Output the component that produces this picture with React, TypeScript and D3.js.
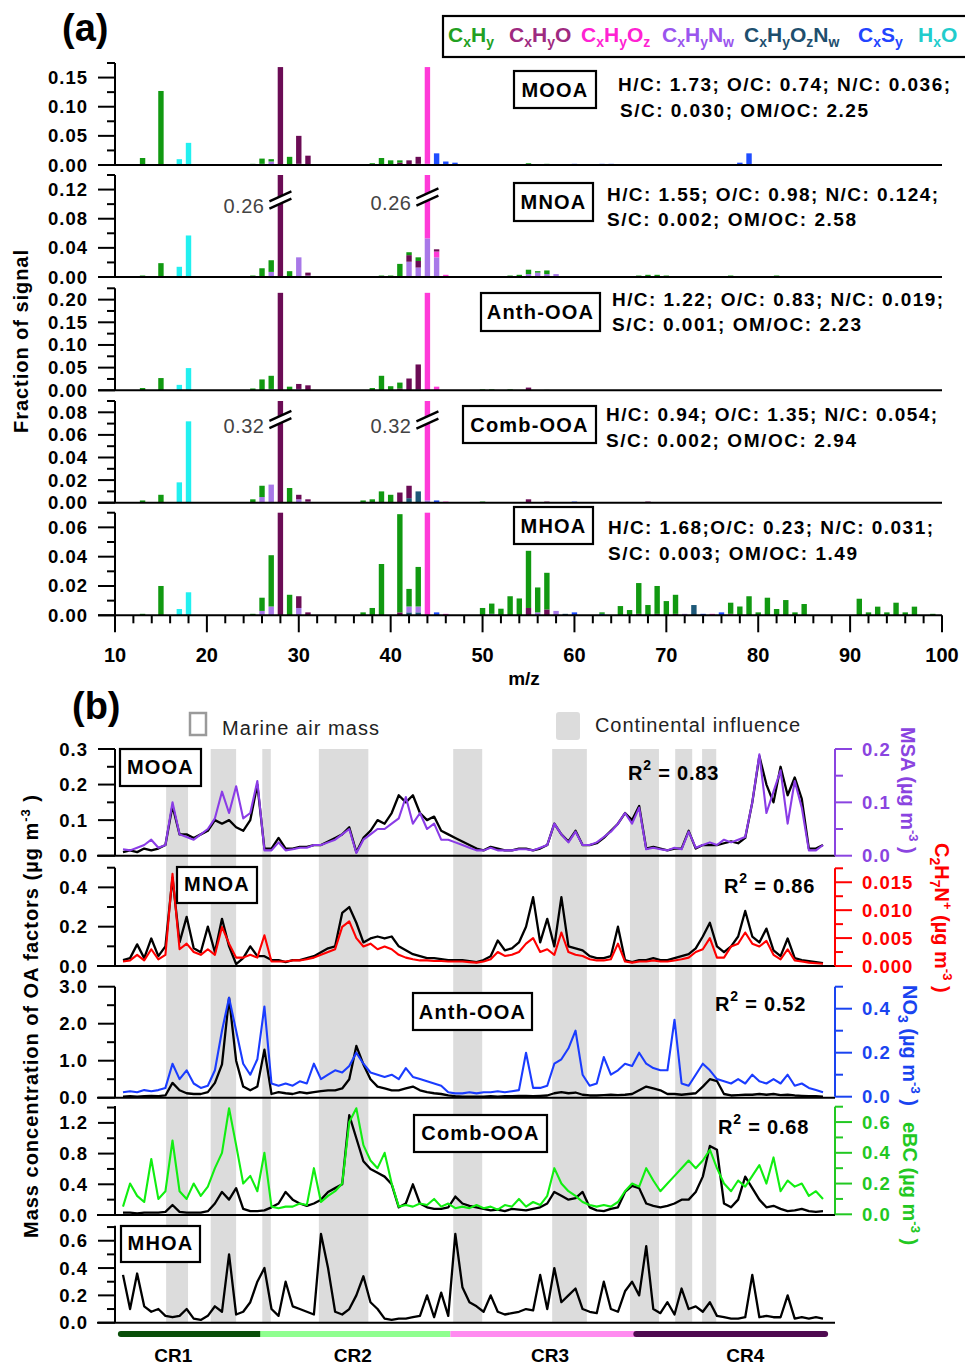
import React from "react";
import * as d3 from "d3";

const FONT = "'Liberation Sans', Arial, Helvetica, sans-serif";

// ---------- (a) mass spectra: [m/z, CxHy, CxHyO, CxHyOz, CxHyNw, CxHyOzNw, CxSy, HxO]
const msMOOA = [
  [13, 0.012, 0, 0, 0, 0, 0, 0], [15, 0.127, 0, 0, 0, 0, 0, 0], [17, 0, 0, 0, 0, 0, 0, 0.010],
  [18, 0, 0, 0, 0, 0, 0, 0.038], [25, 0.002, 0, 0, 0, 0, 0, 0], [26, 0.009, 0, 0, 0.002, 0, 0, 0],
  [27, 0.004, 0, 0, 0.006, 0, 0, 0], [28, 0, 0.168, 0, 0, 0, 0, 0], [29, 0.014, 0, 0, 0, 0, 0, 0],
  [30, 0, 0.048, 0, 0.002, 0, 0, 0], [31, 0, 0.016, 0, 0, 0, 0, 0], [37, 0.001, 0, 0, 0, 0, 0, 0],
  [38, 0.003, 0, 0, 0, 0, 0, 0], [39, 0.012, 0, 0, 0, 0, 0, 0], [40, 0.008, 0, 0, 0, 0, 0, 0],
  [41, 0.004, 0.004, 0, 0, 0, 0, 0], [42, 0, 0.007, 0, 0.001, 0, 0, 0], [43, 0, 0.012, 0, 0, 0.002, 0, 0],
  [44, 0, 0, 0.166, 0.002, 0, 0, 0], [45, 0, 0, 0, 0, 0, 0.020, 0], [46, 0, 0, 0, 0, 0, 0.006, 0],
  [47, 0, 0, 0, 0, 0, 0.004, 0], [50, 0.001, 0, 0, 0, 0, 0, 0], [53, 0.001, 0, 0, 0, 0, 0, 0],
  [55, 0.002, 0, 0.001, 0, 0, 0, 0], [57, 0.001, 0, 0.001, 0, 0, 0, 0], [60, 0, 0, 0, 0, 0, 0.002, 0],
  [63, 0, 0, 0, 0, 0, 0.002, 0], [64, 0, 0, 0, 0, 0, 0.002, 0], [73, 0, 0, 0, 0, 0.001, 0, 0],
  [78, 0, 0, 0, 0, 0, 0.004, 0], [79, 0, 0, 0, 0, 0, 0.020, 0], [91, 0.001, 0, 0, 0, 0, 0, 0],
  [95, 0, 0, 0.001, 0, 0, 0, 0],
];
const msMNOA = [
  [13, 0.002, 0, 0, 0, 0, 0, 0], [15, 0.019, 0, 0, 0, 0, 0, 0], [17, 0, 0, 0, 0, 0, 0, 0.014],
  [18, 0, 0, 0, 0, 0, 0, 0.057], [25, 0.002, 0, 0, 0, 0, 0, 0], [26, 0.012, 0, 0, 0, 0, 0, 0],
  [27, 0.016, 0, 0, 0.007, 0, 0, 0], [28, 0, 0.26, 0, 0, 0, 0, 0], [29, 0.008, 0, 0, 0, 0, 0, 0],
  [30, 0, 0, 0, 0.027, 0, 0, 0], [31, 0, 0.004, 0, 0.002, 0, 0, 0], [39, 0.002, 0, 0, 0, 0, 0, 0],
  [40, 0.002, 0, 0, 0, 0, 0, 0], [41, 0.018, 0, 0, 0, 0, 0, 0], [42, 0.004, 0.009, 0, 0.021, 0, 0, 0],
  [43, 0.005, 0.009, 0, 0.013, 0, 0, 0], [44, 0, 0, 0.207, 0.053, 0, 0, 0], [45, 0, 0.003, 0.008, 0.027, 0, 0, 0],
  [46, 0, 0, 0.003, 0, 0, 0, 0], [47, 0, 0, 0, 0, 0, 0.001, 0], [50, 0.001, 0, 0, 0, 0, 0, 0],
  [53, 0.002, 0, 0, 0, 0, 0, 0], [54, 0.003, 0, 0, 0, 0, 0, 0], [55, 0.006, 0, 0, 0.004, 0, 0, 0],
  [56, 0.002, 0, 0, 0.006, 0, 0, 0], [57, 0.005, 0, 0, 0.004, 0, 0, 0], [58, 0, 0, 0, 0.004, 0, 0, 0],
  [60, 0, 0, 0.001, 0, 0, 0, 0], [67, 0.002, 0, 0, 0, 0, 0, 0], [68, 0.003, 0, 0, 0, 0, 0, 0],
  [69, 0.003, 0, 0, 0, 0, 0, 0], [70, 0.002, 0, 0, 0, 0, 0, 0], [77, 0.002, 0, 0, 0, 0, 0, 0],
  [82, 0.002, 0, 0, 0, 0, 0, 0],
];
const msAnth = [
  [13, 0.005, 0, 0, 0, 0, 0, 0], [15, 0.027, 0, 0, 0, 0, 0, 0], [17, 0, 0, 0, 0, 0, 0, 0.012],
  [18, 0, 0, 0, 0, 0, 0, 0.049], [25, 0.004, 0, 0, 0, 0, 0, 0], [26, 0.024, 0, 0, 0, 0, 0, 0],
  [27, 0.029, 0, 0, 0.003, 0, 0, 0], [28, 0, 0.215, 0, 0, 0, 0, 0], [29, 0.008, 0, 0, 0, 0, 0, 0],
  [30, 0, 0.011, 0, 0.003, 0, 0, 0], [31, 0, 0.011, 0, 0, 0, 0, 0], [38, 0.005, 0, 0, 0, 0, 0, 0],
  [39, 0.032, 0, 0, 0, 0, 0, 0], [40, 0.009, 0, 0, 0, 0, 0, 0], [41, 0.013, 0.004, 0, 0, 0, 0, 0],
  [42, 0, 0.026, 0, 0, 0, 0, 0], [43, 0, 0.055, 0, 0, 0.002, 0, 0], [44, 0, 0, 0.215, 0, 0, 0, 0],
  [45, 0, 0, 0.008, 0, 0, 0, 0], [50, 0.002, 0, 0, 0, 0, 0, 0], [51, 0.002, 0, 0, 0, 0, 0, 0],
  [53, 0.002, 0, 0, 0, 0, 0, 0], [55, 0, 0.006, 0, 0, 0, 0, 0], [57, 0.001, 0, 0, 0, 0, 0, 0],
];
const msComb = [
  [13, 0.002, 0, 0, 0, 0, 0, 0], [15, 0.007, 0, 0, 0, 0, 0, 0], [17, 0, 0, 0, 0, 0, 0, 0.018],
  [18, 0, 0, 0, 0, 0, 0, 0.072], [25, 0.003, 0, 0, 0, 0, 0, 0], [26, 0.010, 0, 0, 0.005, 0, 0, 0],
  [27, 0, 0, 0, 0.016, 0, 0, 0], [28, 0, 0.32, 0, 0, 0, 0, 0], [29, 0.013, 0, 0, 0, 0, 0, 0],
  [30, 0, 0.004, 0, 0.003, 0, 0, 0], [31, 0, 0.002, 0, 0.001, 0, 0, 0], [37, 0.002, 0, 0, 0, 0, 0, 0],
  [38, 0.003, 0, 0, 0, 0, 0, 0], [39, 0.010, 0, 0, 0, 0, 0, 0], [40, 0.007, 0, 0, 0, 0, 0, 0],
  [41, 0, 0.009, 0, 0, 0, 0, 0], [42, 0, 0.011, 0, 0, 0.004, 0, 0], [43, 0, 0, 0, 0, 0.010, 0, 0],
  [44, 0, 0.001, 0.317, 0.002, 0, 0, 0], [45, 0, 0, 0, 0, 0, 0.002, 0], [46, 0, 0, 0.001, 0, 0, 0, 0],
  [50, 0.001, 0, 0, 0, 0, 0, 0], [55, 0, 0.003, 0, 0, 0, 0, 0], [57, 0, 0.001, 0, 0, 0, 0, 0],
  [60, 0, 0, 0, 0, 0, 0.001, 0], [68, 0, 0.001, 0, 0, 0, 0, 0],
];
const msMHOA = [
  [13, 0.001, 0, 0, 0, 0, 0, 0], [15, 0.020, 0, 0, 0, 0, 0, 0], [17, 0, 0, 0, 0, 0, 0, 0.0043],
  [18, 0, 0, 0, 0, 0, 0, 0.0157], [25, 0.001, 0, 0, 0, 0, 0, 0], [26, 0.009, 0, 0, 0.003, 0, 0, 0],
  [27, 0.035, 0, 0, 0.006, 0, 0, 0], [28, 0, 0.07, 0, 0, 0, 0, 0], [29, 0.014, 0, 0, 0, 0, 0, 0],
  [30, 0, 0.008, 0, 0.005, 0, 0, 0], [31, 0, 0.002, 0, 0, 0, 0, 0], [37, 0.002, 0, 0, 0, 0, 0, 0],
  [38, 0.005, 0, 0, 0, 0, 0, 0], [39, 0.035, 0, 0, 0, 0, 0, 0], [41, 0.067, 0.002, 0, 0, 0, 0, 0],
  [42, 0.012, 0, 0, 0.004, 0.002, 0, 0], [43, 0.027, 0, 0, 0.004, 0.002, 0, 0], [44, 0, 0, 0.07, 0, 0, 0, 0],
  [45, 0, 0, 0, 0, 0, 0.002, 0], [46, 0, 0, 0.001, 0, 0, 0, 0], [50, 0.005, 0, 0, 0, 0, 0, 0],
  [51, 0.007, 0, 0, 0.001, 0, 0, 0], [52, 0.0045, 0, 0, 0, 0, 0, 0], [53, 0.013, 0, 0, 0, 0, 0, 0],
  [54, 0.0115, 0, 0, 0, 0, 0, 0], [55, 0.039, 0.005, 0, 0, 0, 0, 0], [56, 0.017, 0, 0, 0.002, 0, 0, 0],
  [57, 0.025, 0.004, 0, 0, 0, 0, 0], [58, 0, 0, 0, 0.003, 0, 0, 0], [59, 0, 0, 0, 0, 0.001, 0, 0],
  [60, 0, 0, 0, 0, 0, 0.002, 0], [63, 0.001, 0, 0, 0, 0, 0.001, 0], [65, 0.0063, 0, 0, 0, 0, 0, 0],
  [66, 0.0036, 0, 0, 0, 0, 0, 0], [67, 0.021, 0.001, 0, 0, 0, 0, 0], [68, 0.007, 0, 0, 0, 0, 0, 0],
  [69, 0.019, 0.001, 0, 0, 0, 0, 0], [70, 0.0097, 0, 0, 0, 0, 0, 0], [71, 0.013, 0.001, 0, 0, 0, 0, 0],
  [72, 0, 0, 0, 0.001, 0, 0, 0], [73, 0, 0, 0, 0, 0.007, 0, 0], [74, 0, 0, 0, 0, 0, 0.001, 0],
  [75, 0, 0, 0.001, 0, 0, 0, 0], [76, 0, 0, 0, 0, 0, 0.002, 0], [77, 0.0076, 0, 0.001, 0, 0, 0, 0],
  [78, 0.006, 0, 0, 0, 0, 0, 0], [79, 0.013, 0, 0, 0, 0, 0, 0], [80, 0.002, 0, 0, 0, 0, 0, 0],
  [81, 0.012, 0, 0, 0, 0, 0, 0], [82, 0.0043, 0, 0, 0, 0, 0, 0], [83, 0.0104, 0, 0, 0, 0, 0, 0],
  [84, 0.002, 0, 0, 0, 0, 0, 0], [85, 0.0077, 0, 0, 0, 0, 0, 0], [91, 0.0113, 0, 0, 0, 0, 0, 0],
  [92, 0.002, 0, 0, 0, 0, 0, 0], [93, 0.0059, 0, 0, 0, 0, 0, 0], [94, 0.002, 0, 0, 0, 0, 0, 0],
  [95, 0.0086, 0, 0, 0, 0, 0, 0], [96, 0.002, 0, 0, 0, 0, 0, 0], [97, 0.0059, 0, 0, 0, 0, 0, 0],
  [99, 0.001, 0, 0, 0, 0, 0, 0],
];

const families = ["CxHy", "CxHyO", "CxHyOz", "CxHyNw", "CxHyOzNw", "CxSy", "HxO"];
const familyLabels = ["C_xH_y", "C_xH_yO", "C_xH_yO_z", "C_xH_yN_w", "C_xH_yO_zN_w", "C_xS_y", "H_xO"];
const stackOrder = ["CxHyOzNw", "CxHyNw", "CxHyOz", "CxHyO", "CxSy", "HxO", "CxHy"];
const barColor: Record<string, string> = {
  CxHy: "#119911", CxHyO: "#6b0c55", CxHyOz: "#ff3ad8", CxHyNw: "#a878e8",
  CxHyOzNw: "#1d5878", CxSy: "#1f4dff", HxO: "#22f0f0",
};
const legendColor: Record<string, string> = {
  CxHy: "#22a022", CxHyO: "#9e2a80", CxHyOz: "#ff22d2", CxHyNw: "#9a55ee",
  CxHyOzNw: "#1e4f6e", CxSy: "#2244ff", HxO: "#22cccc",
};

const factorNames = ["MOOA", "MNOA", "Anth-OOA", "Comb-OOA", "MHOA"];
const elemRatios = [
  ["H/C: 1.73; O/C: 0.74; N/C: 0.036;", "S/C: 0.030; OM/OC: 2.25"],
  ["H/C: 1.55; O/C: 0.98; N/C: 0.124;", "S/C: 0.002; OM/OC: 2.58"],
  ["H/C: 1.22; O/C: 0.83; N/C: 0.019;", "S/C: 0.001; OM/OC: 2.23"],
  ["H/C: 0.94; O/C: 1.35; N/C: 0.054;", "S/C: 0.002; OM/OC: 2.94"],
  ["H/C: 1.68;O/C: 0.23; N/C: 0.031;", "S/C: 0.003; OM/OC: 1.49"],
];
const msSpectra = [msMOOA, msMNOA, msAnth, msComb, msMHOA];
const brokenBars = [
  { panel: 1, mz: 28, label: "0.26" }, { panel: 1, mz: 44, label: "0.26" },
  { panel: 3, mz: 28, label: "0.32" }, { panel: 3, mz: 44, label: "0.32" },
];

// ---------- (b) time series (sample index 0..99 along the cruise)
const mooaTS = [
  0.01, 0.015, 0.01, 0.02, 0.015, 0.02, 0.03, 0.14, 0.06, 0.06,
  0.05, 0.06, 0.07, 0.1, 0.09, 0.1, 0.08, 0.07, 0.1, 0.2,
  0.02, 0.02, 0.05, 0.02, 0.02, 0.025, 0.025, 0.03, 0.03, 0.04,
  0.05, 0.06, 0.08, 0.01, 0.05, 0.07, 0.1, 0.09, 0.12, 0.17,
  0.15, 0.17, 0.12, 0.1, 0.11, 0.07, 0.06, 0.05, 0.04, 0.03,
  0.02, 0.015, 0.025, 0.02, 0.015, 0.015, 0.02, 0.02, 0.015, 0.02,
  0.03, 0.09, 0.06, 0.04, 0.07, 0.03, 0.03, 0.035, 0.05, 0.07,
  0.09, 0.12, 0.1, 0.14, 0.02, 0.025, 0.02, 0.015, 0.02, 0.02,
  0.07, 0.02, 0.03, 0.03, 0.03, 0.035, 0.04, 0.035, 0.05, 0.15,
  0.28, 0.2, 0.15, 0.25, 0.17, 0.22, 0.16, 0.02, 0.02, 0.03,
];
const msaTS = [
  0.012, 0.01, 0.015, 0.02, 0.03, 0.015, 0.02, 0.1, 0.04, 0.035,
  0.03, 0.04, 0.05, 0.07, 0.12, 0.08, 0.13, 0.07, 0.08, 0.14,
  0.01, 0.01, 0.025, 0.01, 0.012, 0.015, 0.015, 0.02, 0.02, 0.025,
  0.03, 0.04, 0.05, 0.005, 0.03, 0.04, 0.05, 0.05, 0.06, 0.07,
  0.11, 0.06, 0.08, 0.05, 0.06, 0.03, 0.03, 0.025, 0.02, 0.015,
  0.01, 0.01, 0.015, 0.01, 0.01, 0.01, 0.012, 0.012, 0.01, 0.015,
  0.02, 0.06, 0.04, 0.025, 0.045, 0.02, 0.02, 0.025, 0.035, 0.045,
  0.06, 0.08, 0.06, 0.09, 0.012, 0.015, 0.012, 0.01, 0.015, 0.012,
  0.045, 0.015, 0.02, 0.025, 0.02, 0.03, 0.025, 0.03, 0.035, 0.1,
  0.19, 0.08, 0.12, 0.16, 0.06, 0.14, 0.09, 0.01, 0.01, 0.02,
];
const mnoaTS = [
  0.03, 0.04, 0.11, 0.04, 0.14, 0.05, 0.1, 0.45, 0.12, 0.25,
  0.09, 0.07, 0.2, 0.07, 0.24, 0.1, 0.01, 0.04, 0.1, 0.05,
  0.05, 0.03, 0.03, 0.02, 0.03, 0.03, 0.04, 0.05, 0.07, 0.09,
  0.1, 0.27, 0.3, 0.22, 0.12, 0.14, 0.15, 0.14, 0.15, 0.1,
  0.08, 0.06, 0.05, 0.04, 0.04, 0.035, 0.03, 0.03, 0.03, 0.025,
  0.02, 0.03, 0.05, 0.13, 0.08, 0.09, 0.12, 0.2, 0.35, 0.12,
  0.24, 0.1, 0.35, 0.1, 0.09, 0.08, 0.05, 0.04, 0.04, 0.05,
  0.2, 0.03, 0.02, 0.03, 0.03, 0.04, 0.03, 0.03, 0.04, 0.05,
  0.06, 0.09, 0.15, 0.22, 0.1, 0.07, 0.1, 0.15, 0.28, 0.15,
  0.12, 0.19, 0.08, 0.05, 0.14, 0.04, 0.03, 0.025, 0.02, 0.015,
];
const c2h7nTS = [
  0.0008, 0.001, 0.002, 0.001, 0.003, 0.0012, 0.002, 0.0165, 0.003, 0.004,
  0.0025, 0.002, 0.003, 0.002, 0.007, 0.004, 0.0015, 0.0015, 0.002, 0.0015,
  0.0055, 0.0008, 0.0008, 0.0008, 0.001, 0.001, 0.0012, 0.0015, 0.002, 0.0025,
  0.003, 0.007, 0.008, 0.005, 0.0035, 0.004, 0.003, 0.0035, 0.003, 0.002,
  0.0015, 0.0012, 0.001, 0.001, 0.0009, 0.0009, 0.0008, 0.0008, 0.0008, 0.0007,
  0.0006, 0.0008, 0.0012, 0.0025, 0.0018, 0.002, 0.0025, 0.004, 0.005, 0.0025,
  0.003, 0.002, 0.006, 0.0025, 0.002, 0.0018, 0.0012, 0.001, 0.001, 0.0012,
  0.004, 0.0008, 0.0006, 0.0008, 0.0008, 0.001, 0.0008, 0.0008, 0.001, 0.0012,
  0.0015, 0.0025, 0.003, 0.005, 0.0015, 0.0015, 0.0035, 0.004, 0.006, 0.004,
  0.0035, 0.0045, 0.002, 0.0012, 0.003, 0.001, 0.0008, 0.0006, 0.0005, 0.0004,
];
const anthTS = [
  0.03, 0.04, 0.03, 0.04, 0.05, 0.04, 0.06, 0.4, 0.2, 0.12,
  0.1, 0.1, 0.15, 0.4, 0.9, 2.7, 1.0, 0.3, 0.2, 0.3,
  1.3, 0.1, 0.15, 0.12, 0.1, 0.15, 0.12, 0.15, 0.18, 0.2,
  0.2, 0.25, 0.5, 1.4, 0.9, 0.5, 0.3, 0.25, 0.2, 0.2,
  0.25, 0.3, 0.2, 0.15, 0.12, 0.1, 0.06, 0.04, 0.03, 0.03,
  0.03, 0.03, 0.04, 0.03, 0.04, 0.04, 0.05, 0.05, 0.04, 0.05,
  0.06, 0.12, 0.15, 0.12, 0.14, 0.08, 0.06, 0.06, 0.07, 0.08,
  0.07, 0.08, 0.1, 0.2, 0.3, 0.25, 0.2, 0.1, 0.1, 0.08,
  0.1, 0.12, 0.3, 0.5, 0.45, 0.1, 0.06, 0.07, 0.08, 0.08,
  0.1, 0.08, 0.1, 0.07, 0.08, 0.06, 0.05, 0.04, 0.04, 0.03,
];
const no3TS = [
  0.02, 0.025, 0.02, 0.03, 0.025, 0.03, 0.04, 0.15, 0.08, 0.12,
  0.06, 0.04, 0.05, 0.12, 0.3, 0.45, 0.3, 0.15, 0.1, 0.17,
  0.41, 0.06, 0.05, 0.06, 0.05, 0.07, 0.06, 0.15, 0.08, 0.1,
  0.12, 0.11, 0.14, 0.2, 0.15, 0.11, 0.1, 0.09, 0.1, 0.08,
  0.13, 0.09, 0.08, 0.07, 0.06, 0.05, 0.02, 0.015, 0.015, 0.02,
  0.015, 0.02, 0.02, 0.025, 0.02, 0.025, 0.03, 0.2, 0.04, 0.04,
  0.05, 0.15, 0.17, 0.22, 0.3, 0.1, 0.05, 0.06, 0.18, 0.1,
  0.12, 0.15, 0.14, 0.2, 0.15, 0.13, 0.12, 0.12, 0.35, 0.06,
  0.05, 0.1, 0.15, 0.12, 0.08, 0.07, 0.06, 0.08, 0.06, 0.1,
  0.07, 0.06, 0.08, 0.06, 0.1, 0.05, 0.06, 0.04, 0.03, 0.02,
];
const combTS = [
  0.03, 0.03, 0.02, 0.03, 0.03, 0.03, 0.04, 0.13, 0.04, 0.03,
  0.03, 0.03, 0.05, 0.15, 0.3, 0.2, 0.35, 0.08, 0.05, 0.05,
  0.06, 0.1, 0.15, 0.3, 0.2, 0.15, 0.12, 0.15, 0.2, 0.3,
  0.35, 0.4, 1.3, 1.0, 0.7, 0.6, 0.55, 0.5, 0.4, 0.1,
  0.15, 0.4, 0.15, 0.1, 0.08, 0.08, 0.1, 0.24, 0.15, 0.12,
  0.1, 0.08, 0.06, 0.07, 0.05, 0.08, 0.07, 0.06, 0.08, 0.1,
  0.15, 0.3, 0.25, 0.2, 0.22, 0.3, 0.1, 0.06, 0.05, 0.08,
  0.1, 0.3, 0.38, 0.35, 0.15, 0.12, 0.1, 0.12, 0.15, 0.2,
  0.2, 0.3, 0.5, 0.9, 0.85, 0.15, 0.1, 0.2, 0.5, 0.35,
  0.2, 0.1, 0.12, 0.08, 0.05, 0.06, 0.08, 0.05, 0.04, 0.05,
];
const ebcTS = [
  0.05, 0.2, 0.12, 0.08, 0.36, 0.1, 0.15, 0.48, 0.15, 0.1,
  0.2, 0.12, 0.18, 0.3, 0.4, 0.69, 0.45, 0.2, 0.25, 0.15,
  0.4, 0.05, 0.04, 0.05, 0.05, 0.07, 0.06, 0.3, 0.08, 0.12,
  0.15, 0.2, 0.6, 0.69, 0.45, 0.35, 0.3, 0.4, 0.2, 0.05,
  0.06, 0.05, 0.07, 0.06, 0.1, 0.05, 0.07, 0.04, 0.05, 0.04,
  0.06, 0.04, 0.05, 0.03, 0.06, 0.05, 0.1, 0.05, 0.08, 0.06,
  0.12, 0.3, 0.2, 0.15, 0.12, 0.08, 0.06, 0.05, 0.06, 0.05,
  0.08, 0.15, 0.2, 0.18, 0.3, 0.22, 0.15, 0.2, 0.25, 0.3,
  0.35, 0.3, 0.35, 0.42, 0.3, 0.2, 0.15, 0.22, 0.18, 0.25,
  0.32, 0.2, 0.37, 0.15, 0.22, 0.18, 0.2, 0.12, 0.15, 0.1,
];
const mhoaTS = [
  0.35, 0.1, 0.36, 0.12, 0.08, 0.1, 0.05, 0.04, 0.05, 0.1,
  0.03, 0.02, 0.05, 0.12, 0.08, 0.5, 0.06, 0.08, 0.15, 0.3,
  0.4, 0.1, 0.05, 0.3, 0.12, 0.1, 0.08, 0.06, 0.65, 0.4,
  0.08, 0.06, 0.1, 0.2, 0.34, 0.15, 0.1, 0.03, 0.02, 0.03,
  0.03, 0.04, 0.05, 0.2, 0.04, 0.22, 0.05, 0.65, 0.26, 0.15,
  0.12, 0.08, 0.2, 0.08, 0.06, 0.07, 0.08, 0.1, 0.09, 0.35,
  0.1, 0.4, 0.15, 0.2, 0.25, 0.1, 0.08, 0.07, 0.3, 0.1,
  0.08, 0.23, 0.3, 0.2, 0.56, 0.1, 0.07, 0.15, 0.06, 0.25,
  0.1, 0.12, 0.08, 0.15, 0.05, 0.04, 0.03, 0.03, 0.04, 0.35,
  0.04, 0.05, 0.04, 0.04, 0.2, 0.03, 0.04, 0.03, 0.04, 0.03,
];
const factorTS = [mooaTS, mnoaTS, anthTS, combTS, mhoaTS];
const tracerTS = [msaTS, c2h7nTS, no3TS, ebcTS];
const r2Values = ["0.83", "0.86", "0.52", "0.68"];
// continental-influence periods, in sample index
const continental = [
  [6.1, 9.2], [12.4, 16.0], [19.7, 20.9], [27.7, 34.7], [46.7, 50.8],
  [60.7, 65.6], [71.7, 75.8], [78.1, 80.5], [81.9, 83.9],
];
const cruiseLegs = [
  { name: "CR1", from: -0.3, to: 19.4 }, { name: "CR2", from: 19.4, to: 46.3 },
  { name: "CR3", from: 46.3, to: 72.6 }, { name: "CR4", from: 72.6, to: 99.3 },
];
const legLabelAt = [7.1, 32.5, 60.4, 88.0];

// ---------- layout
const layA = [
  { top: 63, bottom: 165, max: 0.175, major: 0.05, box: [514, 71, 596, 108], tb: 97, ix: 618, iy: [91, 117], il: [332, 248] },
  { top: 175, bottom: 277, max: 0.14, major: 0.04, box: [514, 183, 593, 221], tb: 209, ix: 607, iy: [201, 226], il: [331, 249] },
  { top: 288.3, bottom: 390.3, max: 0.225, major: 0.05, box: [481, 293, 600, 331], tb: 319, ix: 612, iy: [306, 331], il: [331, 249] },
  { top: 401, bottom: 502.7, max: 0.09, major: 0.02, box: [463, 406, 596, 443], tb: 431.5, ix: 606, iy: [421, 447], il: [331, 250] },
  { top: 512.7, bottom: 615.3, max: 0.07, major: 0.02, box: [514, 507, 593, 544], tb: 533, ix: 608, iy: [534, 560], il: [325, 249] },
];
const breakY = [200, 197, 419.5, 420];
const layB = [
  { top: 749, bottom: 855.7, max: 0.3, major: 0.1, box: [120, 749, 201, 786], tb: 774 },
  { top: 867.7, bottom: 966, max: 0.5, major: 0.2, box: [177, 867, 257, 903], tb: 891 },
  { top: 986.7, bottom: 1097.7, max: 3.0, major: 1.0, box: [413, 993, 532, 1030], tb: 1019 },
  { top: 1106, bottom: 1215, max: 1.42, major: 0.4, box: [414, 1115, 547, 1152], tb: 1140 },
  { top: 1225.7, bottom: 1322.7, max: 0.71, major: 0.2, box: [121, 1226, 200, 1262], tb: 1250 },
];
const tracerLay = [
  { top: 749, bottom: 855.7, max: 0.2, major: 0.1, fmt: ".1f", line: "#8a3ce6", axis: "#8a44e0", r2: [628, 780] },
  { top: 868.3, bottom: 966, max: 0.0175, major: 0.005, fmt: ".3f", line: "#ff0000", axis: "#ff0000", r2: [724, 893] },
  { top: 986.7, bottom: 1096.7, max: 0.5, major: 0.2, fmt: ".1f", line: "#1a3cff", axis: "#1a44f0", r2: [715, 1011] },
  { top: 1106.7, bottom: 1214.3, max: 0.7, major: 0.2, fmt: ".1f", line: "#11ee11", axis: "#22c822", r2: [718, 1134] },
];

const xMz = d3.scaleLinear().domain([10, 100]).range([115, 942]);
const xT = d3.scaleLinear().domain([0, 99]).range([123, 823]);

function subText(s: string, shift = 5, size = 14) {
  const out: JSX.Element[] = [];
  let inSub = false;
  for (let i = 0; i < s.length; i++) {
    if (s[i] === "_") {
      out.push(<tspan key={i} dy={inSub ? 0 : shift} fontSize={size}>{s[i + 1]}</tspan>);
      inSub = true;
      i++;
    } else {
      out.push(<tspan key={i} dy={inSub ? -shift : 0}>{s[i]}</tspan>);
      inSub = false;
    }
  }
  return out;
}

function vAxis(
  key: string, x: number, y: d3.ScaleLinear<number, number>, max: number, major: number,
  fmt: (v: number) => string, side: "left" | "right", color: string, fs: number
) {
  const minor = major / 2;
  const vals = d3.range(0, max + minor * 0.01, minor);
  const dir = side === "left" ? -1 : 1;
  return (
    <g key={key}>
      <line x1={x} x2={x} y1={y(0)} y2={y(max)} stroke={color} strokeWidth={2} />
      {vals.map((v, i) => {
        const isMajor = Math.abs(v / major - Math.round(v / major)) < 1e-6;
        const yy = y(v);
        return (
          <g key={i}>
            <line x1={x} x2={x + dir * (isMajor ? 17 : 8)} y1={yy} y2={yy} stroke={color} strokeWidth={2} />
            {isMajor && (
              <text x={x + dir * 27} y={yy + 6.5} textAnchor={side === "left" ? "end" : "start"}
                fontSize={fs} fontWeight="bold" letterSpacing={1} fill={color}>
                {fmt(v)}
              </text>
            )}
          </g>
        );
      })}
    </g>
  );
}

function FactorBox({ box, tb, name }: { box: number[]; tb: number; name: string }) {
  return (
    <g>
      <rect x={box[0]} y={box[1]} width={box[2] - box[0]} height={box[3] - box[1]}
        fill="#fff" stroke="#000" strokeWidth={2.2} />
      <text x={(box[0] + box[2]) / 2} y={tb} textAnchor="middle" fontSize={20}
        fontWeight="bold" letterSpacing={1.2}>{name}</text>
    </g>
  );
}

function MassSpectrum({ idx }: { idx: number }) {
  const lay = layA[idx];
  const rows = msSpectra[idx];
  const y = d3.scaleLinear().domain([0, lay.max]).range([lay.bottom, lay.top]);
  const stacked = d3.stack<number[]>()
    .keys(stackOrder)
    .value((r, k) => r[1 + families.indexOf(k)])(rows);
  const bw = 5.4;
  return (
    <g>
      {stacked.map((s) => (
        <g key={s.key} fill={barColor[s.key]}>
          {s.map((p, j) => {
            if (p[1] - p[0] <= 0) return null;
            const y1 = Math.max(y(p[1]), lay.top);
            return <rect key={j} x={xMz(p.data[0]) - bw / 2} y={y1} width={bw} height={y(p[0]) - y1} />;
          })}
        </g>
      ))}
      <line x1={98} x2={942} y1={lay.bottom} y2={lay.bottom} stroke="#000" strokeWidth={2} />
      {vAxis("ya" + idx, 115, y, lay.max, lay.major, d3.format(".2f"), "left", "#000", 18.5)}
      <FactorBox box={lay.box} tb={lay.tb} name={factorNames[idx]} />
      {elemRatios[idx].map((t, k) => (
        <text key={k} x={lay.ix + (k === 1 && idx === 0 ? 2 : 0)} y={lay.iy[k]} fontSize={19}
          fontWeight="bold" textLength={lay.il[k]} lengthAdjust="spacing">{t}</text>
      ))}
    </g>
  );
}

function BreakMark({ cx, cy, label }: { cx: number; cy: number; label: string }) {
  const d = 3.6;
  return (
    <g>
      <polygon points={`${cx - 11},${cy - d + 5} ${cx + 11},${cy - d - 5} ${cx + 11},${cy + d - 5} ${cx - 11},${cy + d + 5}`}
        fill="#fff" />
      <line x1={cx - 11} y1={cy - d + 5} x2={cx + 11} y2={cy - d - 5} stroke="#000" strokeWidth={2.4} />
      <line x1={cx - 11} y1={cy + d + 5} x2={cx + 11} y2={cy + d - 5} stroke="#000" strokeWidth={2.4} />
      <text x={cx - 16} y={cy + 13} textAnchor="end" fontSize={20} fill="#444" letterSpacing={0.5}>{label}</text>
    </g>
  );
}

function TimePanel({ idx }: { idx: number }) {
  const lay = layB[idx];
  const y = d3.scaleLinear().domain([0, lay.max]).range([lay.bottom, lay.top]);
  const line = d3.line<number>().x((_, i) => xT(i)).y((v) => y(v));
  const tl = idx < 4 ? tracerLay[idx] : null;
  const yR = tl ? d3.scaleLinear().domain([0, tl.max]).range([tl.bottom, tl.top]) : null;
  const lineR = yR ? d3.line<number>().x((_, i) => xT(i)).y((v) => yR(v)) : null;
  return (
    <g>
      <path d={line(factorTS[idx]) ?? ""} fill="none" stroke="#000" strokeWidth={2.3} strokeLinejoin="round" />
      {tl && lineR && (
        <path d={lineR(tracerTS[idx]) ?? ""} fill="none" stroke={tl.line} strokeWidth={2.1} strokeLinejoin="round" />
      )}
      <line x1={97} x2={835} y1={lay.bottom} y2={lay.bottom} stroke="#000" strokeWidth={2} />
      {vAxis("yb" + idx, 115, y, lay.max, lay.major, d3.format(".1f"), "left", "#000", 18.5)}
      {tl && yR && vAxis("yr" + idx, 835, yR, tl.max, tl.major, d3.format(tl.fmt), "right", tl.axis, 18.5)}
      <FactorBox box={lay.box} tb={lay.tb} name={factorNames[idx]} />
      {tl && (
        <text x={tl.r2[0]} y={tl.r2[1]} fontSize={20} fontWeight="bold" letterSpacing={0.8}>
          R<tspan dy={-10} fontSize={14}>2</tspan><tspan dy={10}> = {r2Values[idx]}</tspan>
        </text>
      )}
    </g>
  );
}

export default function App() {
  const legendX = [448, 509, 581, 662, 744, 858, 918];
  return (
    <svg width={965} height={1365} style={{ position: "absolute", left: 0, top: 0, background: "#fff" }}
      fontFamily={FONT}>
      {/* ---------- (a) ---------- */}
      <text x={62} y={41} fontSize={38} fontWeight="bold">(a)</text>
      <rect x={443} y={16} width={540} height={41} fill="#fff" stroke="#000" strokeWidth={2.2} />
      {families.map((f, i) => (
        <text key={f} x={legendX[i]} y={41.5} fontSize={21} fontWeight="bold" fill={legendColor[f]}>
          {subText(familyLabels[i])}
        </text>
      ))}
      {layA.map((_, i) => <MassSpectrum key={i} idx={i} />)}
      {brokenBars.map((b, i) => (
        <BreakMark key={i} cx={xMz(b.mz)} cy={breakY[i]} label={b.label} />
      ))}
      {d3.range(10, 101, 2).map((m) => {
        const major = m % 10 === 0;
        return (
          <g key={m}>
            <line x1={xMz(m)} x2={xMz(m)} y1={615.3} y2={615.3 + (major ? 17 : 8)} stroke="#000" strokeWidth={2} />
            {major && (
              <text x={xMz(m)} y={662} textAnchor="middle" fontSize={20} fontWeight="bold">{m}</text>
            )}
          </g>
        );
      })}
      <text x={524} y={685} textAnchor="middle" fontSize={19} fontWeight="bold">m/z</text>
      <text transform="translate(28,433) rotate(-90)" fontSize={20} fontWeight="bold"
        textLength={183} lengthAdjust="spacing">Fraction of signal</text>

      {/* ---------- (b) ---------- */}
      <text x={72} y={719} fontSize={38} fontWeight="bold">(b)</text>
      <rect x={190} y={713} width={16} height={22} fill="none" stroke="#9a9a9a" strokeWidth={2.5} />
      <text x={222} y={735} fontSize={20} fill="#222" textLength={157} lengthAdjust="spacing">Marine air mass</text>
      <rect x={556} y={712} width={24} height={28} rx={3} fill="#dcdcdc" />
      <text x={595} y={732} fontSize={20} fill="#222" textLength={205} lengthAdjust="spacing">Continental influence</text>

      {continental.map((c, i) => (
        <rect key={i} x={xT(c[0])} y={749} width={xT(c[1]) - xT(c[0])} height={1322.7 - 749} fill="#dcdcdc" />
      ))}
      {layB.map((_, i) => <TimePanel key={i} idx={i} />)}

      <text transform="translate(38,1238) rotate(-90)" fontSize={20} fontWeight="bold"
        textLength={443} lengthAdjust="spacing">
        Mass concentration of OA factors (µg m<tspan dy={-8} fontSize={13}>-3</tspan><tspan dy={8}> )</tspan>
      </text>
      <text transform="translate(901,727) rotate(90)" fontSize={20} fontWeight="bold" fill="#8a44e0">
        MSA (µg m<tspan dy={-8} fontSize={13}>-3</tspan><tspan dy={8}> )</tspan>
      </text>
      <text transform="translate(935,843) rotate(90)" fontSize={20} fontWeight="bold" fill="#ff0000">
        C<tspan dy={5} fontSize={14}>2</tspan><tspan dy={-5}>H</tspan><tspan dy={5} fontSize={14}>7</tspan>
        <tspan dy={-5}>N</tspan><tspan dy={-8} fontSize={13}>+</tspan><tspan dy={8}> (µg m</tspan>
        <tspan dy={-8} fontSize={13}>-3</tspan><tspan dy={8}> )</tspan>
      </text>
      <text transform="translate(903,985) rotate(90)" fontSize={20} fontWeight="bold" fill="#1a44f0">
        NO<tspan dy={5} fontSize={14}>3</tspan><tspan dy={-5}> (µg m</tspan>
        <tspan dy={-8} fontSize={13}>-3</tspan><tspan dy={8}> )</tspan>
      </text>
      <text transform="translate(903,1122) rotate(90)" fontSize={20} fontWeight="bold" fill="#22c822">
        eBC (µg m<tspan dy={-8} fontSize={13}>-3</tspan><tspan dy={8}> )</tspan>
      </text>

      {cruiseLegs.map((c, i) => (
        <g key={c.name}>
          <line x1={xT(c.from)} x2={xT(c.to)} y1={1334} y2={1334}
            stroke={["#0a4f0a", "#90ff90", "#ff8cf0", "#4f0a50"][i]} strokeWidth={6}
            strokeLinecap={i === 0 || i === 3 ? "round" : "butt"} />
          <text x={xT(legLabelAt[i])} y={1362} textAnchor="middle" fontSize={19} fontWeight="bold">{c.name}</text>
        </g>
      ))}
    </svg>
  );
}
